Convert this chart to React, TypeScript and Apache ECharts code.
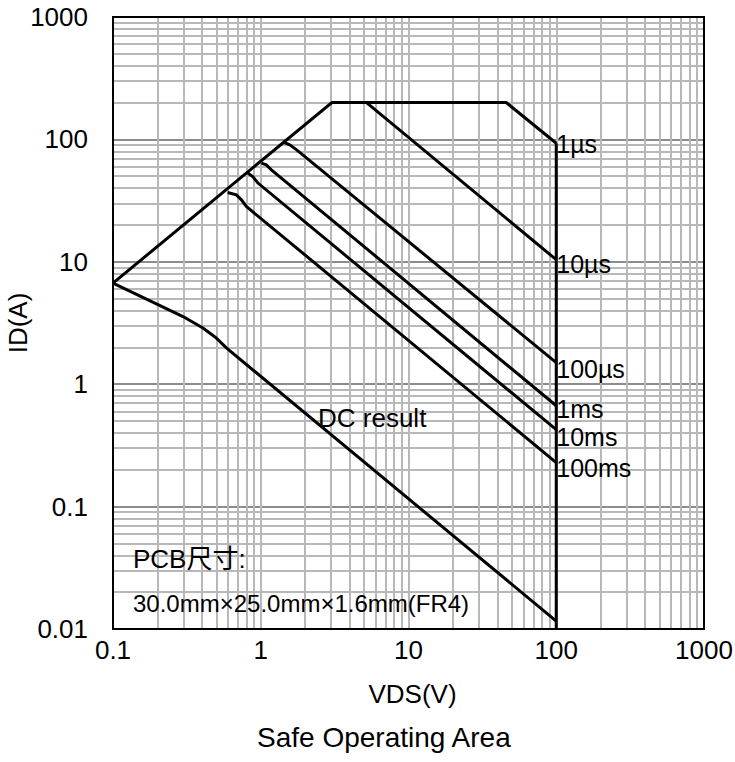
import React, { useEffect, useRef } from 'react';
import * as echarts from 'echarts';

// Axis ticks
const xTicks = [0.1, 1, 10, 100, 1000];
const yTicks = [0.01, 0.1, 1, 10, 100, 1000];
const minorMultipliers = [2, 3, 4, 5, 6, 7, 8, 9];

// Boundary: RDS(on) limit, current limit, 1µs line
const envelopeV = [0.1, 3.03, 45.9, 100];
const envelopeI = [6.7, 200, 200, 93];
// Vertical VDS limit
const vlimitV = [100, 100];
const vlimitI = [93, 0.01];

const us10V = [5.2, 100];
const us10I = [200, 10.4];

const us100V = [1.45, 1.57, 1.75, 100];
const us100I = [94.2, 90.2, 82.1, 1.5];

const ms1V = [1.01, 1.09, 1.18, 100];
const ms1I = [63.9, 61.9, 56.4, 0.667];

const ms10V = [0.819, 0.882, 0.953, 100];
const ms10I = [53.0, 49.7, 44.2, 0.425];

const ms100V = [0.597, 0.684, 0.74, 0.799, 100];
const ms100I = [36.8, 35.2, 32.1, 28.3, 0.229];

const dcV = [0.1, 0.2015, 0.2976, 0.406, 0.451, 0.501, 0.585, 100];
const dcI = [6.7, 4.46, 3.57, 2.88, 2.62, 2.38, 1.98, 0.0116];

const FONT = "'Liberation Sans', Arial, 'Noto Sans CJK SC', sans-serif";

const zip = (a: number[], b: number[]) => a.map((v, i) => [v, b[i]]);

const fmt = (v: number) => String(Number(Number(v).toPrecision(6)));

export default function App() {
  const ref = useRef<HTMLDivElement>(null);

  useEffect(() => {
    if (!ref.current) return;
    const chart = echarts.init(ref.current, null, { renderer: 'svg' });

    const xMinor: number[] = [];
    for (let d = 0; d < xTicks.length - 1; d++)
      minorMultipliers.forEach((m) => xMinor.push(Number((xTicks[d] * m).toPrecision(6))));
    const yMinor: number[] = [];
    for (let d = 0; d < yTicks.length - 1; d++)
      minorMultipliers.forEach((m) => yMinor.push(Number((yTicks[d] * m).toPrecision(6))));

    const lineStyle = { color: '#000', width: 3, join: 'miter' as const };

    const curve = (name: string, v: number[], i: number[], label?: string, dy = 5) => ({
      type: 'line',
      name,
      data: zip(v, i),
      symbol: 'none',
      lineStyle,
      z: 5,
      silent: true,
      endLabel: label
        ? {
            show: true,
            formatter: label,
            fontFamily: FONT,
            fontSize: 25,
            color: '#000',
            distance: 0,
            offset: [0, dy],
          }
        : { show: false },
    });

    const option: any = {
      animation: false,
      backgroundColor: '#fff',
      title: {
        text: 'Safe Operating Area',
        left: 252,
        top: 718,
        textStyle: { fontFamily: FONT, fontSize: 28, fontWeight: 'normal', color: '#000' },
      },
      grid: {
        left: 113,
        top: 17,
        right: 31,
        bottom: 133,
        containLabel: false,
        outerBoundsMode: 'none',
        show: true,
        borderColor: '#000',
        borderWidth: 2,
        backgroundColor: 'transparent',
        z: 10,
      },
      xAxis: {
        type: 'log',
        logBase: 10,
        min: 0.1,
        max: 1000,
        interval: 1,
        name: 'VDS(V)',
        nameLocation: 'middle',
        nameGap: 52,
        nameMoveOverlap: false,
        nameTextStyle: { fontFamily: FONT, fontSize: 26, color: '#000', padding: [0, 0, 0, 8] },
        axisLine: { show: false },
        axisTick: { show: false },
        axisLabel: { fontFamily: FONT, fontSize: 26, color: '#000', margin: 8, formatter: fmt },
        splitLine: { show: true, lineStyle: { color: '#b8b8b8', width: 2 } },
      },
      yAxis: {
        type: 'log',
        logBase: 10,
        min: 0.01,
        max: 1000,
        interval: 1,
        name: 'ID(A)',
        nameLocation: 'middle',
        nameRotate: 90,
        nameGap: 82,
        nameMoveOverlap: false,
        nameTextStyle: { fontFamily: FONT, fontSize: 26, color: '#000' },
        axisLine: { show: false },
        axisTick: { show: false },
        axisLabel: { fontFamily: FONT, fontSize: 26, color: '#000', margin: 25, formatter: fmt },
        splitLine: { show: true, lineStyle: { color: '#8c8c8c', width: 2 } },
      },
      graphic: [
        {
          type: 'text',
          left: 318,
          top: 405,
          z: 20,
          style: { text: 'DC result', fontFamily: FONT, fontSize: 26, fill: '#000' },
        },
        {
          type: 'text',
          left: 133,
          top: 546,
          z: 20,
          style: { text: 'PCB尺寸:', fontFamily: FONT, fontSize: 26, fill: '#000' },
        },
        {
          type: 'text',
          left: 133,
          top: 591,
          z: 20,
          style: { text: '30.0mm×25.0mm×1.6mm(FR4)', fontFamily: FONT, fontSize: 24, fill: '#000' },
        },
      ],
      series: [
        {
          type: 'line',
          name: 'grid',
          data: [],
          silent: true,
          z: 1,
          markLine: {
            silent: true,
            symbol: ['none', 'none'],
            label: { show: false },
            animation: false,
            lineStyle: { color: '#b8b8b8', width: 2, type: 'solid' },
            data: [
              ...xMinor.map((v) => ({ xAxis: v })),
              ...yMinor.map((v) => ({ yAxis: v })),
            ],
          },
        },
        curve('1µs', envelopeV, envelopeI, '1µs', 1),
        curve('limit', vlimitV, vlimitI),
        curve('10µs', us10V, us10I, '10µs', 4),
        curve('100µs', us100V, us100I, '100µs', 6),
        curve('1ms', ms1V, ms1I, '1ms', 3),
        curve('10ms', ms10V, ms10I, '10ms', 7),
        curve('100ms', ms100V, ms100I, '100ms', 5),
        curve('DC', dcV, dcI),
      ],
    };

    chart.setOption(option);
    return () => chart.dispose();
  }, []);

  return (
    <div
      ref={ref}
      style={{ position: 'fixed', left: 0, top: 0, width: 735, height: 762, background: '#fff' }}
    />
  );
}
